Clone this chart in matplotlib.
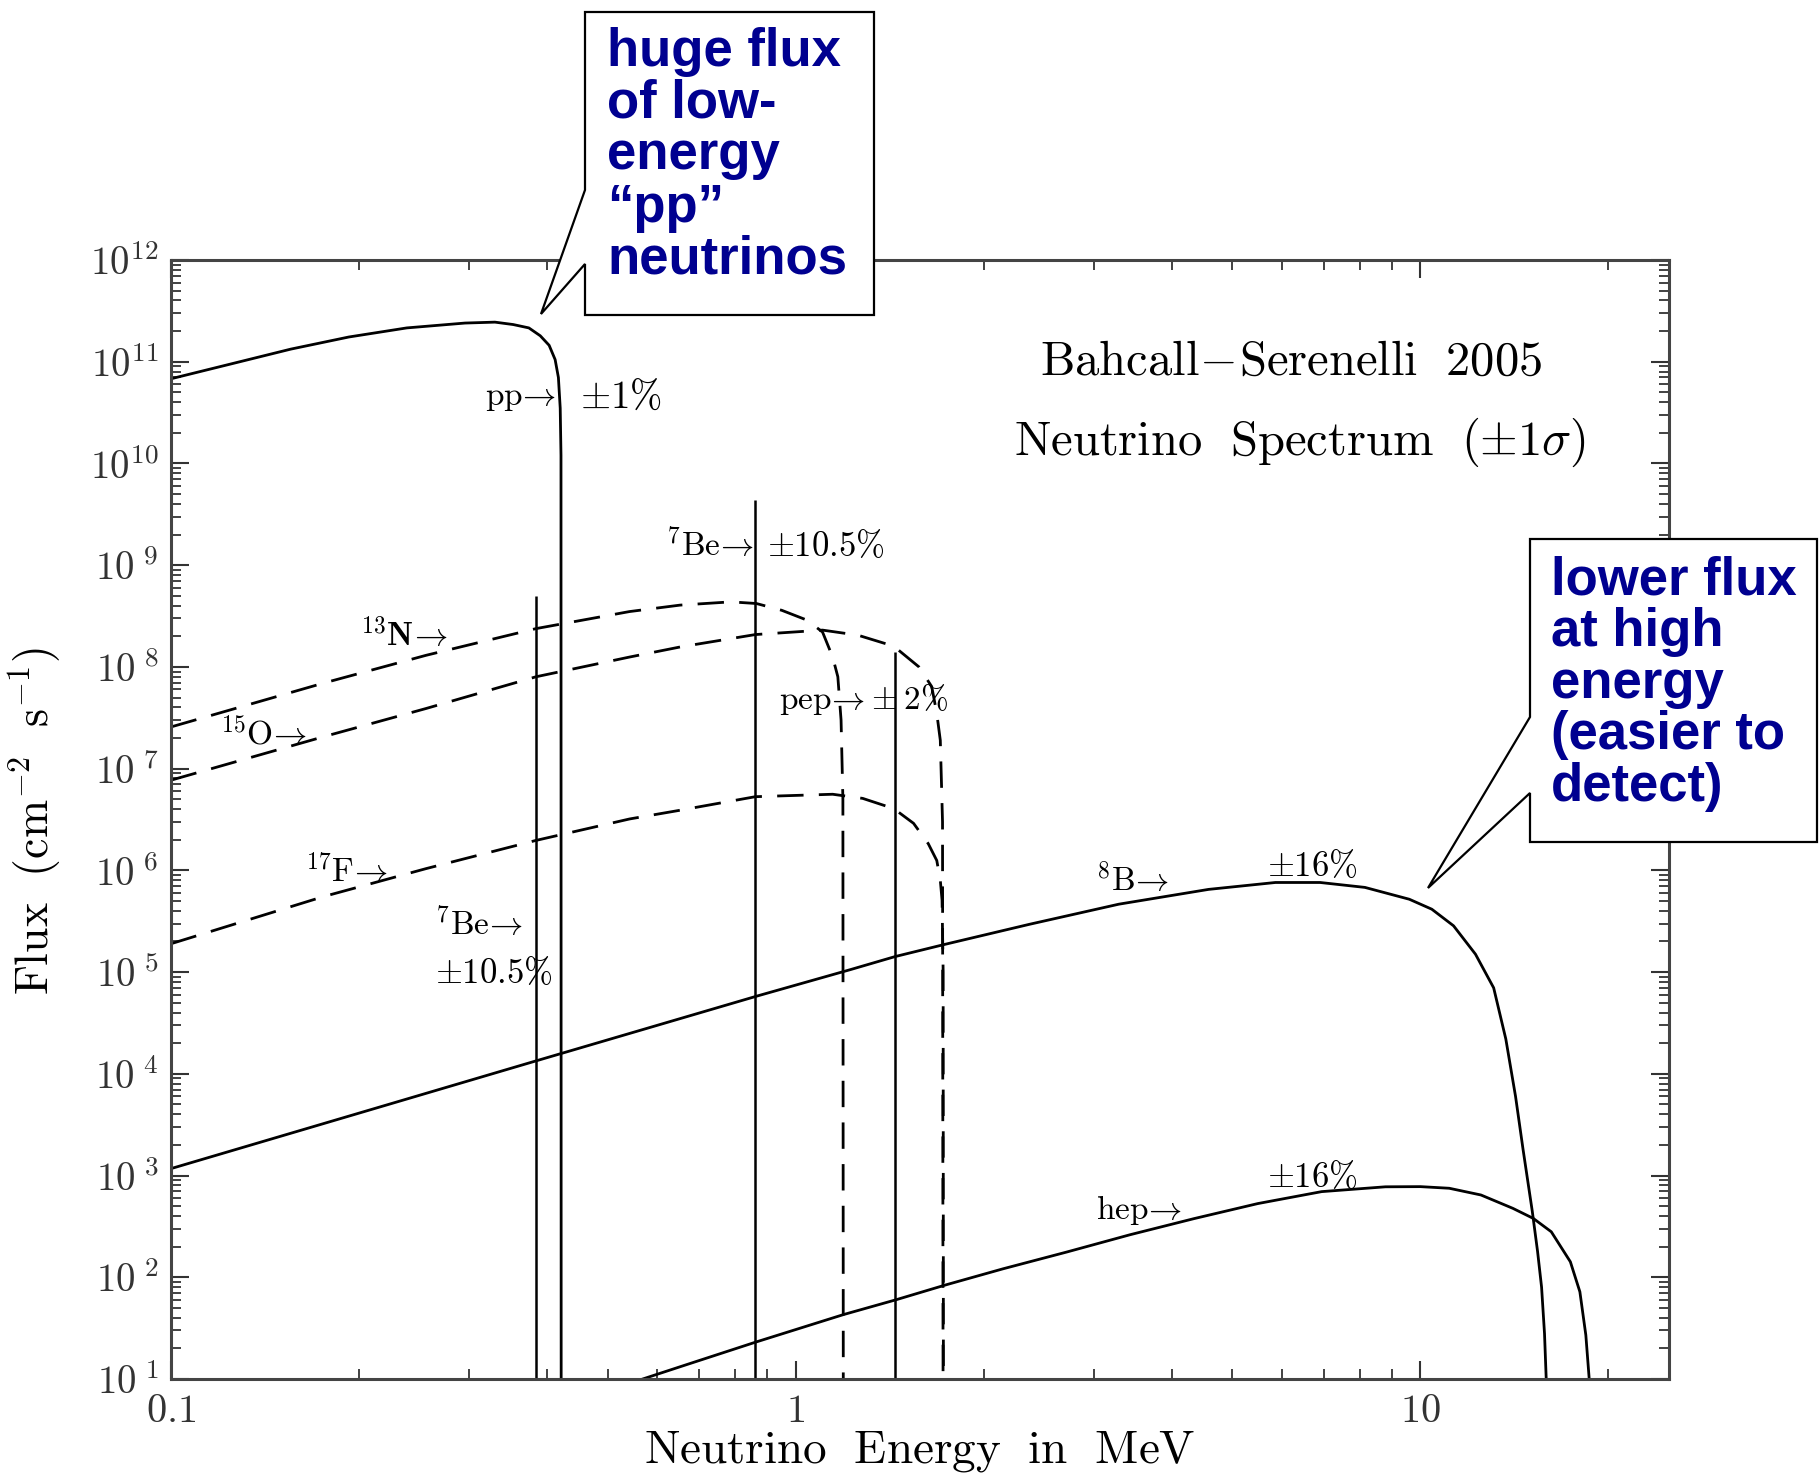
import matplotlib
matplotlib.use('Agg')
import matplotlib.pyplot as plt
from matplotlib.patches import Polygon
from matplotlib.ticker import NullFormatter, LogLocator

plt.rcParams['mathtext.fontset'] = 'cm'
plt.rcParams['font.family'] = ['DejaVu Serif']

# ---------------- data ----------------
pp_E = [0.1, 0.1255, 0.1555, 0.1926, 0.2385, 0.2956, 0.33, 0.353, 0.374, 0.390, 0.403, 0.412, 0.417, 0.4198, 0.4210, 0.4213]
pp_F = [6.8e10, 9.6e10, 1.33e11, 1.75e11, 2.15e11, 2.4e11, 2.45e11, 2.32e11, 2.15e11, 1.8e11, 1.45e11, 1.05e11, 7e10, 3.5e10, 1.2e10, 1]

n13_E = [0.1, 0.175, 0.256, 0.384, 0.542, 0.653, 0.788, 0.865, 0.95, 1.043, 1.104, 1.146, 1.168, 1.182, 1.19, 1.192]
n13_F = [2.57e7, 6.9e7, 1.3e8, 2.38e8, 3.5e8, 4.05e8, 4.36e8, 4.2e8, 3.6e8, 2.88e8, 2.2e8, 1.25e8, 8e7, 3e7, 5e6, 1]

o15_E = [0.1, 0.175, 0.256, 0.384, 0.542, 0.653, 0.862, 1.104, 1.258, 1.435, 1.575, 1.651, 1.682, 1.704, 1.718, 1.722]
o15_F = [7.7e6, 2.05e7, 3.9e7, 8.0e7, 1.25e8, 1.57e8, 2.08e8, 2.3e8, 2.05e8, 1.6e8, 1.0e8, 6.4e7, 3.5e7, 1.9e7, 3e6, 1]

f17_E = [0.1, 0.175, 0.256, 0.384, 0.542, 0.653, 0.862, 1.146, 1.28, 1.435, 1.544, 1.63, 1.682, 1.704, 1.715, 1.722, 1.724]
f17_F = [1.9e5, 5.5e5, 1.04e6, 1.97e6, 3.2e6, 3.9e6, 5.3e6, 5.6e6, 5.1e6, 4.05e6, 2.9e6, 1.83e6, 1.25e6, 8e5, 5.1e5, 1e5, 1]

b8_E = [0.1, 0.384, 0.866, 1.225, 1.442, 1.731, 2.367, 3.29, 4.58, 5.86, 6.91, 8.15, 9.6, 10.43, 11.3, 12.25, 13.1, 13.7, 14.2, 14.6, 15.1, 15.4, 15.63, 15.8, 15.9, 15.95]
b8_F = [1.17e3, 1.34e4, 5.8e4, 1.06e5, 1.42e5, 1.87e5, 2.95e5, 4.65e5, 6.5e5, 7.6e5, 7.6e5, 6.8e5, 5.2e5, 4.15e5, 2.85e5, 1.5e5, 7e4, 2.2e4, 6e3, 1.8e3, 4.5e2, 1.8e2, 80, 28, 10, 1]

hep_E = [0.569, 0.663, 0.862, 1.193, 1.446, 1.737, 2.146, 2.715, 3.43, 4.34, 5.49, 6.95, 8.79, 10.0, 11.12, 12.5, 14.06, 15.16, 16.2, 17.38, 18.0, 18.4, 18.63, 18.65]
hep_F = [10, 13.6, 23, 43, 60, 84, 121, 177, 262, 377, 530, 695, 775, 778, 750, 644, 476, 379, 280, 142, 72, 27, 10, 1]

line_E = [0.384, 0.862, 1.442]          # 7Be, 7Be, pep
line_F = [5.0e8, 4.4e9, 1.4e8]

ytick_exp = list(range(1, 13))
xtick_vals = [0.1, 1, 10]
xtick_labels = ['0.1', '1', '10']

# ---------------- figure ----------------
W, H = 1820, 1478
fig = plt.figure(figsize=(W / 100, H / 100), dpi=100)
ax = fig.add_axes([171 / W, 1 - 1379 / H, (1669 - 171) / W, (1379 - 260) / H])
ax.set_xscale('log')
ax.set_yscale('log')
ax.set_xlim(0.1, 25)
ax.set_ylim(10, 1e12)

lw = 2.0
dash = (9.5, 5.5)
ax.plot(pp_E, pp_F, color='black', lw=lw)
ax.plot(b8_E, b8_F, color='black', lw=lw)
ax.plot(hep_E, hep_F, color='black', lw=lw)
for E, F in [(n13_E, n13_F), (o15_E, o15_F), (f17_E, f17_F)]:
    ax.plot(E, F, color='black', lw=lw, dashes=dash)
ax.vlines(line_E, 10, line_F, colors='black', lw=1.8)

# ticks
ax.set_yticks([10.0 ** k for k in ytick_exp])
ax.set_yticklabels([r'$10^{%d}$' % k if k >= 10 else r'$10^{\ %d}$' % k for k in ytick_exp])
ax.set_xticks(xtick_vals)
ax.set_xticklabels([r'$%s$' % s for s in xtick_labels])
ax.xaxis.set_minor_locator(LogLocator(base=10, subs=range(2, 10)))
ax.yaxis.set_minor_locator(LogLocator(base=10, subs=range(2, 10), numticks=30))
ax.xaxis.set_minor_formatter(NullFormatter())
ax.yaxis.set_minor_formatter(NullFormatter())
ax.tick_params(which='both', direction='in', top=True, right=True, colors='#333333')
ax.tick_params(which='major', length=13, width=1.5, labelsize=28, pad=9)
ax.tick_params(which='minor', length=7, width=1.3)
ax.tick_params(axis='x', which='major', labelsize=29, pad=10)
for sp in ax.spines.values():
    sp.set_linewidth(2.2)
    sp.set_color('#444444')

# curve labels
fs = 24
ax.text(0.318, 4.5e10, r'$\mathrm{pp}\!\rightarrow$', fontsize=fs, va='center')
ax.text(0.452, 4.5e10, r'$\pm1\%$', fontsize=fs + 4, va='center')
ax.text(6.2, 1.0e11, r'$\mathrm{Bahcall\!-\!Serenelli\ \ 2005}$', fontsize=35, ha='center', va='center')
ax.text(6.41, 1.6e10, r'$\mathrm{Neutrino\ \ Spectrum\ \ (\pm 1}\sigma\mathrm{)}$', fontsize=35, ha='center', va='center')
ax.text(0.62, 1.56e9, r'$^{7}\mathrm{Be}\!\rightarrow$', fontsize=fs, va='center')
ax.text(0.90, 1.56e9, r'$\pm10.5\%$', fontsize=fs + 1, va='center')
ax.text(0.201, 2.06e8, r'$^{\mathbf{13}}\mathbf{N}\!\rightarrow$', fontsize=fs, va='center')
ax.text(0.120, 2.2e7, r'$^{15}\mathrm{O}\!\rightarrow$', fontsize=fs, va='center')
ax.text(0.94, 4.8e7, r'$\mathrm{pep}\!\rightarrow\!\pm2\%$', fontsize=fs, va='center')
ax.text(0.1637, 9.9e5, r'$^{17}\mathrm{F}\!\rightarrow$', fontsize=fs, va='center')
ax.text(0.2644, 2.95e5, r'$^{7}\mathrm{Be}\!\rightarrow$', fontsize=fs, va='center')
ax.text(0.2644, 9.8e4, r'$\pm10.5\%$', fontsize=fs + 1, va='center')
ax.text(3.03, 8.0e5, r'$^{8}\mathrm{B}\!\rightarrow$', fontsize=fs, va='center')
ax.text(5.68, 1.1e6, r'$\pm16\%$', fontsize=fs + 1, va='center')
ax.text(3.03, 4.6e2, r'$\mathrm{hep}\!\rightarrow$', fontsize=fs, va='center')
ax.text(5.68, 9.6e2, r'$\pm16\%$', fontsize=fs + 1, va='center')

# axis labels
fig.text(35 / W, 1 - 821 / H, r'$\mathrm{Flux\ \ (cm^{-2}\ \ s^{-1})}$', rotation=90,
         ha='center', va='center', fontsize=33)
fig.text(920 / W, 1 - 1451 / H, r'$\mathrm{Neutrino\ \ Energy\ \ in\ \ MeV}$',
         ha='center', va='center', fontsize=34)

# callout boxes (figure pixel layout)
def fpt(p):
    return (p[0] / W, 1 - p[1] / H)

box1 = [(585, 12), (874, 12), (874, 315), (585, 315), (585, 264), (541, 314), (585, 190)]
box2 = [(1530, 539), (1817, 539), (1817, 842), (1530, 842), (1530, 793), (1428, 888), (1530, 717)]
for b in (box1, box2):
    poly = Polygon([fpt(p) for p in b], closed=True, facecolor='white', edgecolor='black',
                   lw=1.6, transform=fig.transFigure, zorder=10)
    fig.add_artist(poly)

blue = '#000090'
lines1 = ['huge flux', 'of low-', 'energy', '\u201cpp\u201d', 'neutrinos']
base1 = [66, 117, 169, 222, 274]
for t, yb in zip(lines1, base1):
    fig.text(607 / W, 1 - yb / H, t, fontfamily='Liberation Sans', fontweight='bold',
             fontsize=38, color=blue, va='baseline', ha='left', zorder=11)
lines2 = ['lower flux', 'at high', 'energy', '(easier to', 'detect)']
base2 = [594, 646, 698, 749, 801]
for t, yb in zip(lines2, base2):
    fig.text(1551 / W, 1 - yb / H, t, fontfamily='Liberation Sans', fontweight='bold',
             fontsize=38, color=blue, va='baseline', ha='left', zorder=11)

fig.savefig('out.png', dpi=100, facecolor='white')
